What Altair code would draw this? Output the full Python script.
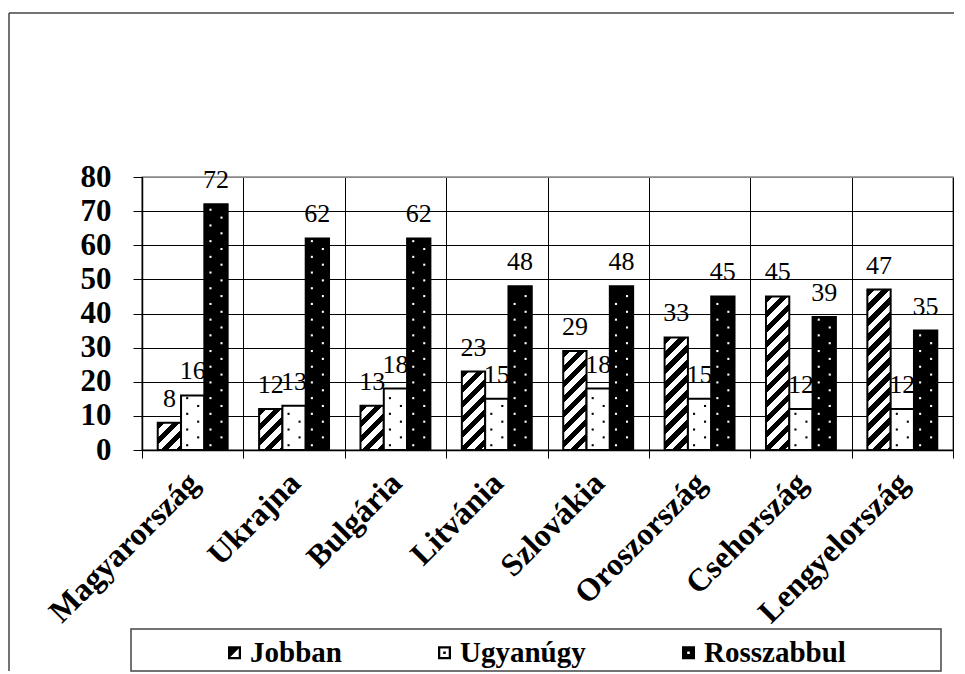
import altair as alt
import pandas as pd

# ---------------- data ----------------
countries = ["Magyarország", "Ukrajna", "Bulgária", "Litvánia", "Szlovákia",
             "Oroszország", "Csehország", "Lengyelország"]
series = ["Jobban", "Ugyanúgy", "Rosszabbul"]
jobban = [8, 12, 13, 23, 29, 33, 45, 47]
ugyanugy = [16, 13, 18, 15, 18, 15, 12, 12]
rosszabbul = [72, 62, 62, 48, 48, 45, 39, 35]
y_ticks = [0, 10, 20, 30, 40, 50, 60, 70, 80]

records = []
for i, c in enumerate(countries):
    for s, vals in zip(series, [jobban, ugyanugy, rosszabbul]):
        records.append({"country": c, "series": s, "value": vals[i]})
df = pd.DataFrame(records)

# ---------------- layout / style ----------------
SERIF = "Liberation Serif"
W, H = 811, 273
YMAX = 80
PX = H / YMAX
OFF_PAD = 0.675
STEP = W / len(countries)
BAR_W = STEP / (len(series) + 2 * OFF_PAD)


def hatch(value, period=15.0, black=0.5):
    """diagonal '/' hatch as a hard-stop linear gradient sized to the bar"""
    h = value * PX
    w = BAR_W
    total = w + h
    stops = []
    pos = 0.0
    while pos < total:
        a = pos / total
        b = min((pos + period * black) / total, 1.0)
        c = min((pos + period) / total, 1.0)
        stops += [{"offset": round(a, 5), "color": "black"},
                  {"offset": round(b, 5), "color": "black"},
                  {"offset": round(b, 5), "color": "white"},
                  {"offset": round(c, 5), "color": "white"}]
        pos += period
    n2 = w * w + h * h
    return {"gradient": "linear", "x1": 0, "y1": 0,
            "x2": round(w * total / n2, 6), "y2": round(h * total / n2, 6),
            "stops": stops}


fill_conditions = [
    {"test": f"datum.country === '{c}' && datum.series === 'Jobban'", "value": hatch(v)}
    for c, v in zip(countries, jobban)
]
fill_conditions.append({"test": "datum.series === 'Rosszabbul'", "value": "black"})

x_enc = alt.X(
    "country:N", sort=countries,
    scale=alt.Scale(domain=countries, paddingInner=0, paddingOuter=0),
    axis=alt.Axis(title=None, tickBand="extent", grid=True, gridColor="black",
                  gridWidth=1, tickColor="black", tickSize=8, tickWidth=1,
                  domainColor="black", domainWidth=1.5,
                  labelAngle=-45, labelAlign="right", labelBaseline="top",
                  labelPadding=9, labelOffset=-10, labelFont=SERIF, labelFontSize=32,
                  labelFontWeight="bold", labelColor="black", labelLimit=400,
                  labelOverlap=False),
)
xoff_enc = alt.XOffset("series:N", sort=series,
                       scale=alt.Scale(domain=series, paddingInner=0, paddingOuter=OFF_PAD))
y_axis = alt.Axis(values=y_ticks, title=None, grid=True,
                  gridColor={"condition": {"test": "datum.value === 80", "value": "#888888"},
                             "value": "black"},
                  gridWidth=1, tickColor="black", tickSize=9, tickWidth=1,
                  domainColor="black", domainWidth=1.5,
                  labelFont=SERIF, labelFontSize=31, labelFontWeight="bold",
                  labelColor="black", labelPadding=22)
y_scale = alt.Scale(domain=[0, YMAX], nice=False)

base = alt.Chart(df)

# legend symbols (custom paths), points hidden under the bars
p_job = ("M-1,-1L1,-1L1,1L-1,1Z M-0.65,-0.65L-0.65,0.65L0.65,0.65L0.65,-0.65Z "
         "M-0.65,-0.65L0.65,-0.65L-0.65,0.65Z")
p_ugy = ("M-1,-1L1,-1L1,1L-1,1Z M-0.65,-0.65L-0.65,0.65L0.65,0.65L0.65,-0.65Z "
         "M-0.2,-0.2L0.2,-0.2L0.2,0.2L-0.2,0.2Z")
p_ros = "M-1,-1L1,-1L1,1L-1,1Z M-0.2,-0.2L-0.2,0.2L0.2,0.2L0.2,-0.2Z"

legend_pts = base.mark_point(filled=True, color="black", size=169, opacity=1).encode(
    x=x_enc, xOffset=xoff_enc,
    y=alt.datum(3, scale=y_scale, axis=y_axis),
    shape=alt.Shape("series:N", sort=series,
                    scale=alt.Scale(domain=series, range=[p_job, p_ugy, p_ros]),
                    legend=alt.Legend(orient="none", legendX=78, legendY=461,
                                      direction="horizontal", title=None,
                                      labelFont=SERIF, labelFontSize=29,
                                      labelFontWeight="bold", labelColor="black",
                                      symbolSize=169, symbolFillColor="black",
                                      symbolStrokeWidth=0, symbolOpacity=1,
                                      columnPadding=88, labelOffset=1, padding=0)),
)

bars = base.mark_bar(stroke="black", strokeWidth=2).encode(
    x=x_enc, xOffset=xoff_enc,
    y=alt.Y("value:Q", scale=y_scale, axis=y_axis),
    fill=alt.value("white", condition=fill_conditions),
)

dot_fill = alt.condition("datum.series === 'Rosszabbul'", alt.value("white"), alt.value("black"))
# small dot drawn left / right of the bar centre (symbol path, scaled by sqrt(size)/2)
dot_left = "M-1.19,-0.19L-0.81,-0.19L-0.81,0.19L-1.19,0.19Z"
dot_right = "M0.81,-0.19L1.19,-0.19L1.19,0.19L0.81,0.19Z"

dots_left = base.transform_filter("datum.series !== 'Jobban'").transform_calculate(
    rows="sequence(1.4, datum.value - 0.7, 4.6)"
).transform_flatten(["rows"]).mark_point(filled=True, size=121, opacity=1,
                                         strokeWidth=0).encode(
    x=x_enc, xOffset=xoff_enc,
    y=alt.Y("rows:Q", scale=y_scale, axis=y_axis),
    fill=dot_fill,
    shape=alt.value(dot_left),
)

dots_right = base.transform_filter("datum.series !== 'Jobban'").transform_calculate(
    rows="sequence(3.7, datum.value - 0.7, 4.6)"
).transform_flatten(["rows"]).mark_point(filled=True, size=121, opacity=1,
                                         strokeWidth=0).encode(
    x=x_enc, xOffset=xoff_enc,
    y=alt.Y("rows:Q", scale=y_scale, axis=y_axis),
    fill=dot_fill,
    shape=alt.value(dot_right),
)

labels = base.mark_text(font=SERIF, fontSize=26, baseline="alphabetic", dy=-16,
                        color="black").encode(
    x=x_enc, xOffset=xoff_enc,
    y=alt.Y("value:Q", scale=y_scale, axis=y_axis),
    text="value:Q",
)

one = alt.Chart(pd.DataFrame({"k": [0]}))
frame_top = one.mark_rule(color="#444444", strokeWidth=1.5).encode(
    x=alt.value(-133), x2=alt.value(812), y=alt.value(-164))
frame_left = one.mark_rule(color="#444444", strokeWidth=1.5).encode(
    x=alt.value(-133), y=alt.value(-164), y2=alt.value(494))
legend_box = one.mark_rect(fillOpacity=0, stroke="#444444", strokeWidth=1.5).encode(
    x=alt.value(-11), x2=alt.value(799), y=alt.value(452), y2=alt.value(494))

chart = alt.layer(
    legend_pts, bars, dots_left, dots_right, labels, frame_top, frame_left, legend_box
).properties(
    width=W, height=H,
    padding={"left": 0, "top": 4, "right": 0, "bottom": 0},
    background="white",
).configure_view(stroke="#888888", strokeWidth=1.5)

chart.save("out.html", embed_options={"renderer": "svg", "actions": False})
